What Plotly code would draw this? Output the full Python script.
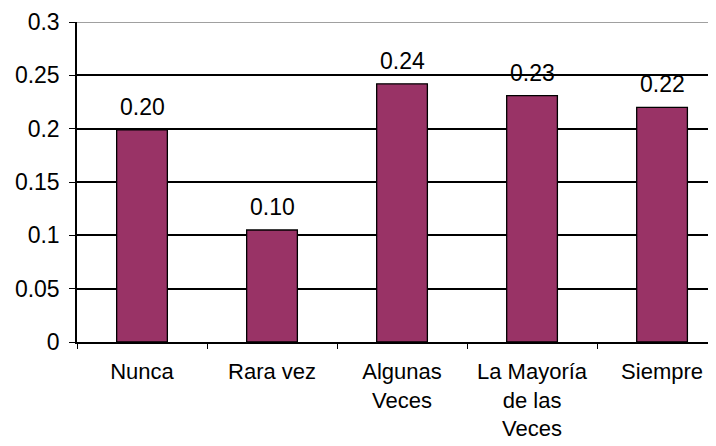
import plotly.graph_objects as go

categories = ["Nunca", "Rara vez", "Algunas<br>Veces", "La Mayoría<br>de las<br>Veces", "Siempre"]
values = [0.199, 0.105, 0.242, 0.231, 0.220]
value_labels = ["0.20", "0.10", "0.24", "0.23", "0.22"]
y_ticks = [0, 0.05, 0.1, 0.15, 0.2, 0.25, 0.3]
y_tick_text = ["0", "0.05", "0.1", "0.15", "0.2", "0.25", "0.3"]

FONT = "Liberation Sans, Arial, sans-serif"
FS = 23

fig = go.Figure(
    go.Bar(
        x=categories,
        y=values,
        width=0.39,
        marker=dict(color="#993366", line=dict(color="black", width=1.3)),
        hoverinfo="skip",
    )
)

for c, v, t in zip(categories, values, value_labels):
    fig.add_annotation(
        x=c, y=v, text=t, showarrow=False, yanchor="bottom", yshift=8,
        font=dict(family=FONT, size=FS, color="black"),
    )

fig.update_layout(
    width=716,
    height=446,
    margin=dict(l=69, r=8, t=14, b=112, autoexpand=False),
    paper_bgcolor="white",
    plot_bgcolor="white",
    showlegend=False,
    font=dict(family=FONT, size=FS, color="black"),
    xaxis=dict(
        type="category",
        range=[-0.5, 4.415],
        automargin=False,
        showgrid=False,
        showline=True,
        linecolor="black",
        linewidth=1.5,
        ticks="outside",
        tickson="boundaries",
        ticklen=5,
        tickcolor="black",
        tickwidth=1.3,
        ticklabelstandoff=9,
        tickfont=dict(family=FONT, size=22, color="black"),
    ),
    yaxis=dict(
        range=[0, 0.3],
        automargin=False,
        tickvals=y_ticks,
        ticktext=y_tick_text,
        showgrid=True,
        gridcolor="black",
        gridwidth=1.5,
        zeroline=False,
        showline=True,
        linecolor="black",
        linewidth=1.5,
        ticks="outside",
        ticklen=6,
        tickcolor="black",
        tickwidth=1.3,
        ticklabelstandoff=5,
        tickfont=dict(family=FONT, size=FS, color="black"),
    ),
    shapes=[
        dict(type="line", xref="paper", yref="y", x0=0, x1=1, y0=0.3, y1=0.3,
             line=dict(color="#808080", width=1.5), layer="above"),
    ],
)

fig.write_html("out.html")
